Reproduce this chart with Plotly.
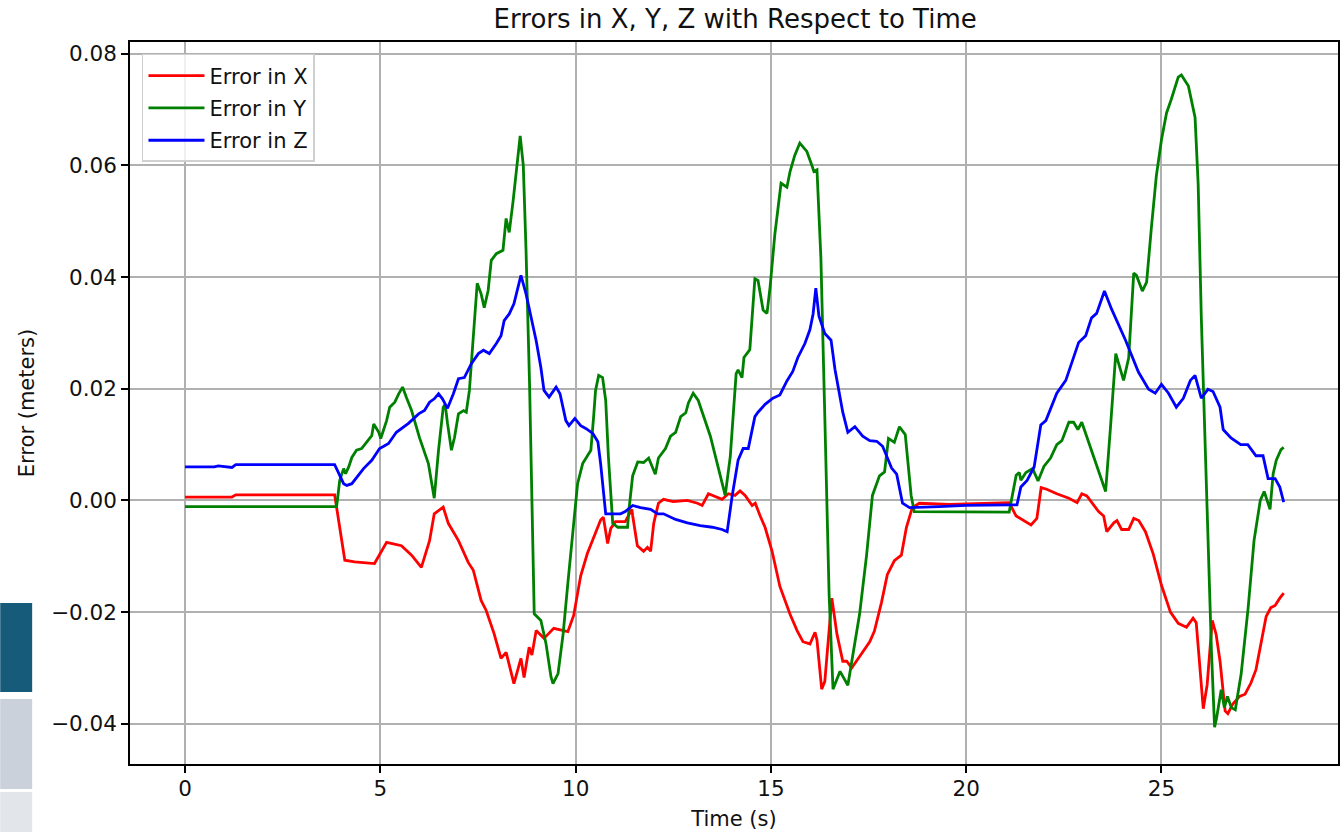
import plotly.graph_objects as go

# Position error samples (time in seconds, error in meters)
time_x = [0.0, 0.75, 1.2, 1.3, 3.83, 4.09, 4.34, 4.85, 5.16, 5.54, 5.80, 6.05, 6.26, 6.38,
          6.61, 6.74, 7.00, 7.25, 7.38, 7.58, 7.71, 7.91, 8.09, 8.22, 8.42, 8.60, 8.68,
          8.81, 8.88, 8.99, 9.19, 9.44, 9.80, 9.95, 10.13, 10.30, 10.46, 10.64, 10.71,
          10.82, 10.90, 11.02, 11.27, 11.44, 11.46, 11.58, 11.74, 11.84, 11.92, 12.00,
          12.12, 12.25, 12.50, 12.86, 13.12, 13.24, 13.40, 13.65, 13.75, 13.91, 14.08,
          14.21, 14.34, 14.52, 14.60, 14.72, 14.85, 15.03, 15.23, 15.49, 15.67, 15.82,
          16.00, 16.13, 16.18, 16.30, 16.38, 16.56, 16.69, 16.84, 16.94, 17.07, 17.32,
          17.53, 17.65, 17.83, 17.98, 18.16, 18.34, 18.47, 18.62, 18.80, 19.57, 20.33,
          21.10, 21.28, 21.47, 21.66, 21.81, 21.92, 22.06, 22.32, 22.63, 22.84, 22.96,
          23.09, 23.39, 23.52, 23.60, 23.78, 23.86, 23.98, 24.16, 24.29, 24.42, 24.59,
          24.79, 25.00, 25.23, 25.43, 25.64, 25.81, 25.89, 25.99, 26.07, 26.17, 26.30,
          26.40, 26.50, 26.63, 26.70, 26.83, 27.00, 27.14, 27.29, 27.42, 27.55, 27.68,
          27.80, 27.91, 28.03, 28.13]
err_x = [0.0006, 0.0006, 0.0006, 0.0010, 0.0010, -0.0107, -0.0110, -0.0113, -0.0075,
         -0.0081, -0.0098, -0.0120, -0.0072, -0.0024, -0.0012, -0.0041, -0.0072, -0.0111,
         -0.0125, -0.0179, -0.0197, -0.0238, -0.0283, -0.0272, -0.0328, -0.0283, -0.0317,
         -0.0263, -0.0277, -0.0233, -0.0247, -0.0229, -0.0235, -0.0206, -0.0135, -0.0095,
         -0.0065, -0.0035, -0.0030, -0.0077, -0.0050, -0.0038, -0.0038, -0.0016, -0.0027,
         -0.0081, -0.0091, -0.0084, -0.0091, -0.0041, -0.0005, 0.0002, -0.0002, 0.0000,
         -0.0005, -0.0009, 0.0012, 0.0005, 0.0002, 0.0012, 0.0009, 0.0017, 0.0009, -0.0009,
         -0.0005, -0.0027, -0.0048, -0.0091, -0.0154, -0.0204, -0.0233, -0.0253, -0.0257,
         -0.0236, -0.0250, -0.0338, -0.0324, -0.0175, -0.0239, -0.0288, -0.0288, -0.0300,
         -0.0274, -0.0253, -0.0234, -0.0183, -0.0133, -0.0108, -0.0098, -0.0048, -0.0013,
         -0.0005, -0.0007, -0.0005, -0.0004, -0.0028, -0.0036, -0.0044, -0.0032, 0.0023,
         0.0020, 0.0012, 0.0004, -0.0004, 0.0012, 0.0008, -0.0020, -0.0028, -0.0056,
         -0.0040, -0.0036, -0.0052, -0.0052, -0.0032, -0.0036, -0.0056, -0.0096, -0.0152,
         -0.0200, -0.0220, -0.0227, -0.0211, -0.0219, -0.0312, -0.0373, -0.0330, -0.0215,
         -0.0240, -0.0288, -0.0377, -0.0382, -0.0364, -0.0351, -0.0347, -0.0327, -0.0303,
         -0.0256, -0.0208, -0.0192, -0.0188, -0.0175, -0.0166]

time_y = [0.0, 3.88, 3.96, 4.06, 4.11, 4.19, 4.27, 4.39, 4.52, 4.65, 4.78, 4.83, 4.96,
          5.01, 5.16, 5.24, 5.37, 5.47, 5.57, 5.67, 5.80, 6.00, 6.23, 6.38, 6.49, 6.61,
          6.66, 6.72, 6.82, 6.90, 7.00, 7.13, 7.20, 7.28, 7.38, 7.48, 7.58, 7.66, 7.76,
          7.84, 7.97, 8.14, 8.22, 8.30, 8.40, 8.50, 8.58, 8.66, 8.73, 8.82, 8.88, 8.94,
          9.11, 9.24, 9.37, 9.42, 9.55, 9.68, 9.80, 9.93, 10.05, 10.18, 10.31, 10.39,
          10.46, 10.51, 10.59, 10.69, 10.77, 10.84, 10.95, 11.08, 11.33, 11.36, 11.46,
          11.59, 11.74, 11.87, 12.04, 12.12, 12.30, 12.43, 12.56, 12.69, 12.82, 12.89,
          13.01, 13.14, 13.45, 13.83, 13.96, 14.11, 14.16, 14.26, 14.31, 14.46, 14.59,
          14.67, 14.80, 14.90, 14.98, 15.10, 15.26, 15.41, 15.49, 15.61, 15.74, 15.92,
          16.05, 16.10, 16.18, 16.28, 16.38, 16.49, 16.59, 16.77, 16.97, 17.09, 17.27,
          17.45, 17.60, 17.78, 17.91, 18.01, 18.16, 18.29, 18.44, 18.59, 18.67, 21.10,
          21.28, 21.36, 21.40, 21.53, 21.70, 21.84, 21.99, 22.16, 22.32, 22.45, 22.63,
          22.75, 22.86, 22.96, 23.14, 23.57, 23.69, 23.83, 24.03, 24.16, 24.29, 24.36,
          24.51, 24.62, 24.74, 24.87, 25.00, 25.13, 25.25, 25.43, 25.51, 25.69, 25.86,
          25.94, 26.02, 26.15, 26.28, 26.36, 26.41, 26.53, 26.61, 26.69, 26.79, 26.89,
          27.04, 27.22, 27.37, 27.53, 27.63, 27.78, 27.86, 27.94, 28.06, 28.13]
err_y = [-0.0011, -0.0011, 0.0036, 0.0057, 0.0048, 0.0060, 0.0077, 0.0090, 0.0093, 0.0104,
         0.0116, 0.0137, 0.0122, 0.0111, 0.0143, 0.0167, 0.0176, 0.0191, 0.0203, 0.0184,
         0.0161, 0.0113, 0.0066, 0.0004, 0.0090, 0.0167, 0.0172, 0.0138, 0.0090, 0.0113,
         0.0155, 0.0161, 0.0158, 0.0197, 0.0298, 0.0389, 0.0370, 0.0345, 0.0376, 0.0430,
         0.0442, 0.0448, 0.0505, 0.0480, 0.0537, 0.0609, 0.0653, 0.0600, 0.0448, 0.0210,
         -0.0030, -0.0203, -0.0215, -0.0256, -0.0316, -0.0328, -0.0310, -0.0239, -0.0149,
         -0.0060, 0.0030, 0.0066, 0.0080, 0.0090, 0.0149, 0.0197, 0.0224, 0.0220, 0.0179,
         0.0077, -0.0041, -0.0048, -0.0048, -0.0020, 0.0044, 0.0069, 0.0068, 0.0076, 0.0047,
         0.0076, 0.0093, 0.0115, 0.0122, 0.0150, 0.0157, 0.0175, 0.0192, 0.0179, 0.0115,
         0.0009, 0.0079, 0.0227, 0.0234, 0.0220, 0.0256, 0.0270, 0.0397, 0.0394, 0.0341,
         0.0335, 0.0383, 0.0476, 0.0568, 0.0561, 0.0589, 0.0618, 0.0640, 0.0625, 0.0600,
         0.0589, 0.0592, 0.0434, 0.0150, -0.0168, -0.0338, -0.0306, -0.0331, -0.0281,
         -0.0204, -0.0098, 0.0009, 0.0044, 0.0051, 0.0111, 0.0104, 0.0132, 0.0118, 0.0009,
         -0.0020, -0.0021, 0.0045, 0.0050, 0.0036, 0.0050, 0.0057, 0.0035, 0.0061, 0.0076,
         0.0100, 0.0107, 0.0140, 0.0140, 0.0127, 0.0140, 0.0104, 0.0016, 0.0127, 0.0263,
         0.0215, 0.0255, 0.0407, 0.0403, 0.0375, 0.0391, 0.0487, 0.0582, 0.0646, 0.0694,
         0.0718, 0.0758, 0.0762, 0.0742, 0.0686, 0.0566, 0.0328, 0.0008, -0.0271, -0.0406,
         -0.0390, -0.0339, -0.0371, -0.0351, -0.0371, -0.0375, -0.0311, -0.0192, -0.0072,
         0.0000, 0.0016, -0.0016, 0.0048, 0.0072, 0.0091, 0.0095]

time_z = [0.0, 0.75, 0.85, 1.2, 1.3, 3.83, 4.06, 4.14, 4.27, 4.39, 4.57, 4.78, 4.98, 5.11,
          5.21, 5.41, 5.72, 5.98, 6.13, 6.26, 6.38, 6.49, 6.59, 6.72, 6.87, 7.00, 7.15,
          7.33, 7.51, 7.64, 7.79, 7.97, 8.09, 8.17, 8.30, 8.42, 8.53, 8.60, 8.73, 8.86,
          8.99, 9.11, 9.19, 9.32, 9.50, 9.60, 9.75, 9.83, 9.98, 10.13, 10.26, 10.44, 10.51,
          10.57, 10.64, 10.77, 11.15, 11.27, 11.46, 11.66, 11.92, 12.10, 12.25, 12.56,
          12.86, 13.19, 13.50, 13.75, 13.88, 14.01, 14.16, 14.29, 14.42, 14.59, 14.67,
          14.85, 15.05, 15.23, 15.41, 15.56, 15.69, 15.87, 16.00, 16.08, 16.15, 16.23,
          16.38, 16.54, 16.64, 16.84, 16.97, 17.15, 17.35, 17.53, 17.71, 17.86, 18.09,
          18.22, 18.37, 18.55, 19.31, 20.00, 21.10, 21.30, 21.40, 21.56, 21.74, 21.91,
          22.04, 22.17, 22.32, 22.55, 22.75, 22.88, 23.06, 23.21, 23.34, 23.54, 23.72,
          24.08, 24.41, 24.67, 24.84, 25.00, 25.18, 25.38, 25.56, 25.74, 25.86, 26.02,
          26.19, 26.32, 26.50, 26.58, 26.78, 27.03, 27.21, 27.42, 27.60, 27.73, 27.91,
          28.03, 28.13]
err_z = [0.0060, 0.0060, 0.0062, 0.0059, 0.0064, 0.0064, 0.0030, 0.0027, 0.0030, 0.0041,
         0.0057, 0.0072, 0.0093, 0.0098, 0.0102, 0.0122, 0.0138, 0.0155, 0.0161, 0.0176,
         0.0182, 0.0191, 0.0182, 0.0165, 0.0191, 0.0218, 0.0220, 0.0245, 0.0263, 0.0269,
         0.0263, 0.0281, 0.0295, 0.0322, 0.0334, 0.0352, 0.0382, 0.0403, 0.0370, 0.0328,
         0.0286, 0.0238, 0.0197, 0.0185, 0.0203, 0.0191, 0.0143, 0.0134, 0.0147, 0.0134,
         0.0129, 0.0120, 0.0113, 0.0105, 0.0066, -0.0024, -0.0024, -0.0020, -0.0009,
         -0.0013, -0.0016, -0.0024, -0.0024, -0.0034, -0.0040, -0.0045, -0.0048, -0.0052,
         -0.0056, 0.0009, 0.0072, 0.0093, 0.0093, 0.0150, 0.0158, 0.0172, 0.0183, 0.0189,
         0.0214, 0.0231, 0.0256, 0.0281, 0.0306, 0.0334, 0.0380, 0.0330, 0.0299, 0.0287,
         0.0235, 0.0158, 0.0122, 0.0132, 0.0115, 0.0107, 0.0106, 0.0097, 0.0058, 0.0047,
         -0.0005, -0.0013, -0.0011, -0.0009, -0.0008, -0.0008, 0.0024, 0.0036, 0.0060,
         0.0135, 0.0143, 0.0167, 0.0192, 0.0215, 0.0255, 0.0283, 0.0295, 0.0327, 0.0335,
         0.0375, 0.0343, 0.0287, 0.0230, 0.0199, 0.0192, 0.0208, 0.0192, 0.0167, 0.0183,
         0.0215, 0.0224, 0.0183, 0.0199, 0.0195, 0.0167, 0.0127, 0.0112, 0.0100, 0.0100,
         0.0080, 0.0080, 0.0039, 0.0039, 0.0024, -0.0003]

series_names = ["Error in X", "Error in Y", "Error in Z"]
series_colors = ["#ff0000", "#008000", "#0000ff"]
x_ticks = [0, 5, 10, 15, 20, 25]
y_ticks = [-0.04, -0.02, 0.00, 0.02, 0.04, 0.06, 0.08]

FONT = "DejaVu Sans"
TEXT = "#111111"

fig = go.Figure()
for t, v, name, color in zip([time_x, time_y, time_z], [err_x, err_y, err_z],
                             series_names, series_colors):
    # one legend group per series so tracegroupgap spaces the legend rows
    fig.add_trace(go.Scatter(x=t, y=v, mode="lines", name=name, legendgroup=name,
                             line=dict(color=color, width=2.8)))

axis_common = dict(
    showgrid=True, gridcolor="#b0b0b0", gridwidth=1.5,
    zeroline=False, showline=True, linecolor="#000000", linewidth=1.5, mirror=True,
    ticks="outside", ticklen=7, tickwidth=1.5, tickcolor="#000000",
    tickfont=dict(family=FONT, size=21.5, color=TEXT),
)

fig.update_layout(
    width=1344, height=832,
    margin=dict(l=130, r=4, t=42, b=68),
    paper_bgcolor="#ffffff", plot_bgcolor="#ffffff",
    font=dict(family=FONT, size=21, color=TEXT),
    title=dict(text="Errors in X, Y, Z with Respect to Time", x=0.547, xanchor="center",
               y=0.977, yanchor="middle", yref="container",
               font=dict(family=FONT, size=26, color=TEXT)),
    xaxis=dict(range=[-1.41, 29.52], tickvals=x_ticks, ticklabelstandoff=-3,
               title=dict(text="Time (s)", standoff=12,
                          font=dict(family=FONT, size=21, color=TEXT)),
               **axis_common),
    yaxis=dict(range=[-0.0472, 0.0821], tickvals=y_ticks, tickformat=".2f",
               title=dict(text="Error (meters)", standoff=11,
                          font=dict(family=FONT, size=21, color=TEXT)),
               **axis_common),
    legend=dict(x=0.0099, y=0.9834, xanchor="left", yanchor="top",
                bgcolor="rgba(255,255,255,0.8)", bordercolor="#d0d0d0", borderwidth=1.5,
                font=dict(family=FONT, size=21, color=TEXT),
                itemwidth=56, tracegroupgap=2),
    showlegend=True,
)

# Side panel blocks at the lower-left edge of the page
panel_blocks = [(603, 692, "#175b7b"), (699, 789, "#cbd1da"), (792, 832, "#e2e6ea")]
for top, bottom, color in panel_blocks:
    fig.add_shape(type="rect", xref="paper", yref="paper",
                  x0=-130 / 1210, x1=(32 - 130) / 1210,
                  y0=(764 - bottom) / 722, y1=(764 - top) / 722,
                  fillcolor=color, line=dict(width=0), layer="above")

fig.write_html("out.html")
